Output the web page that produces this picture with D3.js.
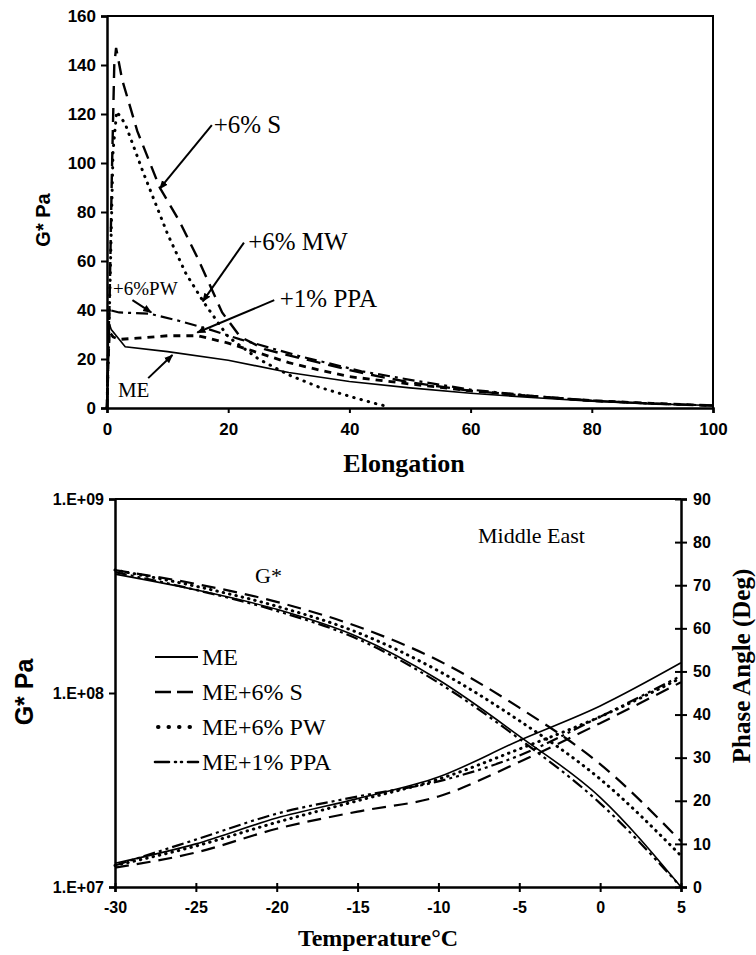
<!DOCTYPE html>
<html><head><meta charset="utf-8">
<script src="https://cdn.jsdelivr.net/npm/d3@7"></script>
<style>body{margin:0;background:#fff}</style>
</head><body><svg id="c" width="756" height="955"></svg>
<script>
// ---------- Top chart data: [Elongation, G* Pa] ----------
const elongME  = [[0,0],[0.15,18],[0.3,35],[0.7,32],[3,25],[10,23],[20,19.5],[30,14.5],[40,10.8],[50,8.2],[60,6],[70,4.3],[80,2.8],[90,1.7],[100,1]];
const elongS   = [[0,0],[0.4,40],[0.8,95],[1.2,140],[1.5,147],[2.5,134],[5,113],[8.7,90],[12,76],[15,61],[19,39],[22,29],[26,24],[30,21.5],[35,18.5],[40,15.5],[45,12.8],[50,10.5],[60,7],[70,4.8],[80,3],[90,1.8],[100,1]];
const elongMW  = [[0,0],[0.5,50],[1,105],[1.6,121],[3,116],[6,96],[10,71],[13,55],[16,43],[20,29],[25,20],[30,13.5],[35,8.5],[40,4.8],[44,2],[46,0.8]];
const elongPW  = [[0,0],[0.2,25],[0.4,40],[2,39],[7,38.5],[12,35.5],[17,32],[22,28],[27,24.5],[32,21],[37,18],[42,15],[50,11.5],[60,7.5],[70,5],[80,3],[90,1.8],[100,1]];
const elongPPA = [[0,0],[0.2,20],[0.4,31],[1,29],[2,28],[5,28.5],[10,29.5],[15,29.5],[20,26.5],[25,22.5],[30,18.5],[35,15.5],[40,12.8],[50,9.8],[60,7],[70,4.8],[80,3],[90,1.9],[100,1]];
const topXTicks = [0,20,40,60,80,100];
const topYTicks = [0,20,40,60,80,100,120,140,160];

// ---------- Bottom chart data ----------
const temps    = [-30,-25,-20,-15,-10,-5,0,5];
const gME      = [4.1e8,3.4e8,2.7e8,1.95e8,1.17e8,6.0e7,2.9e7,1.0e7];
const gS       = [4.3e8,3.65e8,2.95e8,2.2e8,1.47e8,8.4e7,4.3e7,1.72e7];
const gPW      = [4.3e8,3.55e8,2.8e8,2.05e8,1.3e8,7.2e7,3.6e7,1.45e7];
const gPPA     = [4.2e8,3.4e8,2.65e8,1.9e8,1.13e8,5.8e7,2.7e7,1.0e7];
const phME     = [5.5,10,16,20.5,25.5,34,42,52];
const phS      = [4.5,8,13.5,17.5,21,29,38,47.5];
const phPW     = [5,9.5,15,20,25,32,39.5,48.5];
const phPPA    = [5,11,17,21,24.5,30.5,39.5,49];
const botXTicks = [-30,-25,-20,-15,-10,-5,0,5];
const botYTicks = [1e7,1e8,1e9];
const botYLabels = ["1.E+07","1.E+08","1.E+09"];
const phaseTicks = [0,10,20,30,40,50,60,70,80,90];
const legendNames = ["ME","ME+6% S","ME+6% PW","ME+1% PPA"];

const svg = d3.select("#c");
const serif = "'Liberation Serif','Times New Roman',serif";
const sans  = "'Liberation Sans',Arial,sans-serif";

svg.append("defs").append("marker").attr("id","arr")
  .attr("viewBox","0 0 10 10").attr("refX",9).attr("refY",5)
  .attr("markerWidth",9).attr("markerHeight",9).attr("orient","auto-start-reverse")
  .attr("markerUnits","userSpaceOnUse")
  .append("path").attr("d","M0,1 L10,5 L0,9 z").attr("fill","#000");

// ================= TOP CHART =================
const T = {l:107, r:713, t:16, b:408};
const x1 = d3.scaleLinear().domain([0,100]).range([T.l,T.r]);
const y1 = d3.scaleLinear().domain([0,160]).range([T.b,T.t]);
const g1 = svg.append("g");

g1.append("path").attr("d",`M${T.l},${T.t}H${T.r}V${T.b}`).attr("fill","none").attr("stroke","#000").attr("stroke-width",2);

const ax1 = g1.append("g").attr("transform",`translate(0,${T.b})`)
  .call(d3.axisBottom(x1).tickValues(topXTicks).tickSize(5).tickPadding(10).tickFormat(d=>String(d)));
const ay1 = g1.append("g").attr("transform",`translate(${T.l},0)`)
  .call(d3.axisLeft(y1).tickValues(topYTicks).tickSize(6).tickPadding(5).tickFormat(d=>String(d)));
[ax1,ay1].forEach(a=>{
  a.select(".domain").attr("stroke-width",2.5);
  a.selectAll(".tick line").attr("stroke-width",2);
  a.selectAll("text").attr("font-family",sans).attr("font-weight","bold").attr("font-size",17).attr("fill","#000");
});

const line1 = d3.line().x(d=>x1(d[0])).y(d=>y1(d[1]));
const topSeries = [
  {d:elongME,  dash:null,       w:1.6, cap:"butt"},
  {d:elongS,   dash:"14,8",     w:2.4, cap:"butt"},
  {d:elongMW,  dash:"0.5,7",    w:3.0, cap:"round"},
  {d:elongPW,  dash:"12,5,3,5", w:2.2, cap:"butt"},
  {d:elongPPA, dash:"7,6",      w:2.8, cap:"butt"}
];
topSeries.forEach(s=>{
  g1.append("path").datum(s.d).attr("d",line1).attr("fill","none").attr("stroke","#000")
    .attr("stroke-width",s.w).attr("stroke-dasharray",s.dash).attr("stroke-linecap",s.cap);
});

const topNotes = [
  {t:"+6% S",   tx:17.6, ty:116, size:25, from:[17.3,115.5], to:[8.7,89.5]},
  {t:"+6% MW",  tx:23.3, ty:68,  size:25, from:[22.6,67.5],  to:[15.8,43.5]},
  {t:"+1% PPA", tx:28.5, ty:45,  size:25, from:[27.6,44],    to:[14.9,30.8]},
  {t:"+6%PW",   tx:1.0,  ty:49,  size:19, from:[4.2,44],     to:[7.3,39]},
  {t:"ME",      tx:1.8,  ty:7.5, size:21, from:[6.8,12.2],   to:[10.8,21.6]}
];
topNotes.forEach(n=>{
  g1.append("line").attr("x1",x1(n.from[0])).attr("y1",y1(n.from[1]))
    .attr("x2",x1(n.to[0])).attr("y2",y1(n.to[1])).attr("stroke","#000").attr("stroke-width",2)
    .attr("marker-end","url(#arr)");
  g1.append("text").attr("x",x1(n.tx)).attr("y",y1(n.ty)).attr("dy","0.35em")
    .attr("font-family",serif).attr("font-size",n.size).text(n.t);
});

g1.append("text").attr("x",(T.l+T.r)/2 - 6).attr("y",463).attr("dy","0.35em").attr("text-anchor","middle")
  .attr("font-family",serif).attr("font-weight","bold").attr("font-size",26).text("Elongation");
g1.append("text").attr("transform",`translate(43,220) rotate(-90)`).attr("dy","0.35em").attr("text-anchor","middle")
  .attr("font-family",sans).attr("font-weight","bold").attr("font-size",20).text("G* Pa");

// ================= BOTTOM CHART =================
const B = {l:115, r:681, t:499, b:887};
const x2 = d3.scaleLinear().domain([-30,5]).range([B.l,B.r]);
const y2 = d3.scaleLog().domain([1e7,1e9]).range([B.b,B.t]);
const y3 = d3.scaleLinear().domain([0,90]).range([B.b,B.t]);
const g2 = svg.append("g");

g2.append("line").attr("x1",B.l).attr("x2",B.r).attr("y1",B.t).attr("y2",B.t).attr("stroke","#000").attr("stroke-width",2);

const ax2 = g2.append("g").attr("transform",`translate(0,${B.b})`)
  .call(d3.axisBottom(x2).tickValues(botXTicks).tickSize(5).tickPadding(10).tickFormat(d=>String(d)));
const ay2 = g2.append("g").attr("transform",`translate(${B.l},0)`)
  .call(d3.axisLeft(y2).tickValues(botYTicks).tickSize(6).tickPadding(5).tickFormat((d,i)=>botYLabels[i]));
const ay3 = g2.append("g").attr("transform",`translate(${B.r},0)`)
  .call(d3.axisRight(y3).tickValues(phaseTicks).tickSize(6).tickPadding(6).tickFormat(d=>String(d)));
ay3.selectAll(".tick line").attr("x1",-6);
ax2.selectAll(".tick line").attr("y1",-4);
[ax2,ay2,ay3].forEach(a=>{
  a.select(".domain").attr("stroke-width",2.5);
  a.selectAll(".tick line").attr("stroke-width",2);
  a.selectAll("text").attr("font-family",sans).attr("font-weight","bold").attr("font-size",16).attr("fill","#000");
});

const gLine = d3.line().x((d,i)=>x2(temps[i])).y(d=>y2(d)).curve(d3.curveMonotoneX);
const pLine = d3.line().x((d,i)=>x2(temps[i])).y(d=>y3(d)).curve(d3.curveMonotoneX);
const botStyles = [
  {dash:null,           w:1.6, cap:"butt"},
  {dash:"14,8",         w:2.2, cap:"butt"},
  {dash:"0.5,6",        w:3.0, cap:"round"},
  {dash:"12,4,3,4,3,4", w:2.2, cap:"butt"}
];
[gME,gS,gPW,gPPA].forEach((s,i)=>{
  g2.append("path").datum(s).attr("d",gLine).attr("fill","none").attr("stroke","#000")
    .attr("stroke-width",botStyles[i].w).attr("stroke-dasharray",botStyles[i].dash).attr("stroke-linecap",botStyles[i].cap);
});
[phME,phS,phPW,phPPA].forEach((s,i)=>{
  g2.append("path").datum(s).attr("d",pLine).attr("fill","none").attr("stroke","#000")
    .attr("stroke-width",botStyles[i].w).attr("stroke-dasharray",botStyles[i].dash).attr("stroke-linecap",botStyles[i].cap);
});

// legend
const legendDash = [null,"16,6","0.5,10","14,6,1,5,1,6"];
legendNames.forEach((name,i)=>{
  const yy = 657 + i*35;
  g2.append("line").attr("x1",i==2?158:155).attr("x2",198).attr("y1",yy).attr("y2",yy).attr("stroke","#000")
    .attr("stroke-width",i==2?4:botStyles[i].w+0.4).attr("stroke-dasharray",legendDash[i])
    .attr("stroke-linecap",i==2||i==3?"round":"butt");
  g2.append("text").attr("x",202).attr("y",yy).attr("dy","0.35em").attr("font-family",serif).attr("font-size",24).text(name);
});

g2.append("text").attr("x",478).attr("y",535).attr("dy","0.35em").attr("font-family",serif).attr("font-size",22).text("Middle East");
g2.append("text").attr("x",255).attr("y",575).attr("dy","0.35em").attr("font-family",serif).attr("font-size",22).text("G*");

g2.append("text").attr("x",378).attr("y",938).attr("dy","0.35em").attr("text-anchor","middle")
  .attr("font-family",serif).attr("font-weight","bold").attr("font-size",24).text("Temperature°C");
g2.append("text").attr("transform",`translate(24,692) rotate(-90)`).attr("dy","0.35em").attr("text-anchor","middle")
  .attr("font-family",sans).attr("font-weight","bold").attr("font-size",25).text("G* Pa");
g2.append("text").attr("transform",`translate(741,666) rotate(-90)`).attr("dy","0.35em").attr("text-anchor","middle")
  .attr("font-family",serif).attr("font-weight","bold").attr("font-size",25).text("Phase Angle (Deg)");
</script></body></html>
